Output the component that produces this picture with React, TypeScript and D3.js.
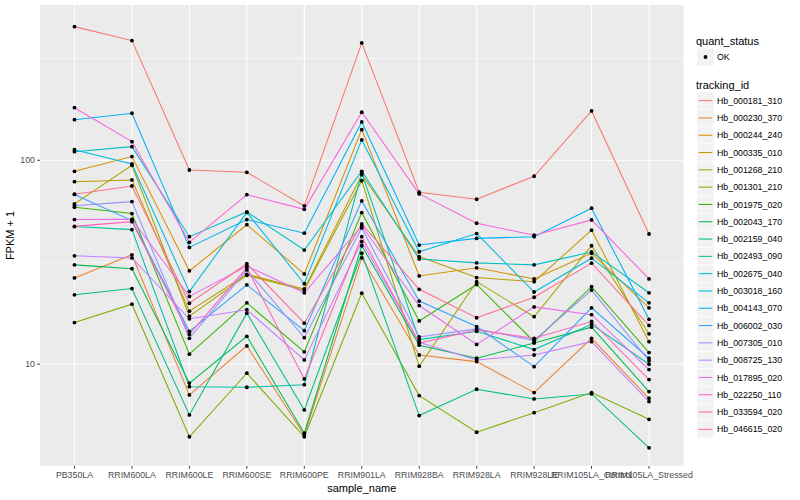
import React from "react";
import * as d3 from "d3";

const samples = [
  "PB350LA", "RRIM600LA", "RRIM600LE", "RRIM600SE", "RRIM600PE", "RRIM901LA",
  "RRIM928BA", "RRIM928LA", "RRIM928LE", "RRIM105LA_Control", "RRIM105LA_Stressed",
];

const trackingIds = [
  "Hb_000181_310", "Hb_000230_370", "Hb_000244_240", "Hb_000335_010", "Hb_001268_210",
  "Hb_001301_210", "Hb_001975_020", "Hb_002043_170", "Hb_002159_040", "Hb_002493_090",
  "Hb_002675_040", "Hb_003018_160", "Hb_004143_070", "Hb_006002_030", "Hb_007305_010",
  "Hb_008725_130", "Hb_017895_020", "Hb_022250_110", "Hb_033594_020", "Hb_046615_020",
];

const palette = [
  "#F8766D", "#EA8331", "#D89000", "#C09B00", "#A3A500", "#7CAE00", "#39B600",
  "#00BB4E", "#00BF7D", "#00C1A3", "#00BFC4", "#00BAE0", "#00B0F6", "#35A2FF",
  "#9590FF", "#C77CFF", "#E76BF3", "#FA62DB", "#FF62BC", "#FF6C91",
];

// FPKM + 1 per sample (order of `samples`)
const hb000181_310 = [452, 386, 89.6, 87.3, 59.7, 376, 69.7, 64.4, 83.5, 174.5, 43.5];
const hb000230_370 = [26.5, 34.4, 7.07, 12.3, 4.5, 33.2, 11.1, 10.3, 7.26, 13.4, 6.81];
const hb000244_240 = [88.3, 104.2, 28.7, 48.3, 27.7, 141.3, 27.1, 29.7, 26.2, 35.0, 18.9];
const hb000335_010 = [78.5, 80.1, 18.2, 27.6, 23.4, 85.0, 33.7, 26.6, 25.4, 45.4, 12.9];
const hb001268_210 = [61.1, 94.5, 17.2, 27.3, 23.1, 79.4, 9.78, 25.4, 17.1, 38.1, 14.1];
const hb001301_210 = [16.0, 19.7, 4.41, 9.04, 4.41, 22.3, 7.02, 4.64, 5.79, 7.26, 5.37];
const hb001975_020 = [58.8, 54.8, 11.2, 20.0, 11.5, 55.4, 16.3, 24.6, 12.9, 24.0, 11.4];
const hb002043_170 = [30.7, 29.4, 8.08, 13.7, 4.59, 38.1, 12.4, 10.7, 12.7, 15.2, 7.34];
const hb002159_040 = [21.9, 23.5, 5.64, 17.8, 5.97, 35.0, 5.6, 7.54, 6.76, 7.15, 3.89];
const hb002493_090 = [47.3, 45.7, 7.76, 7.71, 7.94, 86.6, 13.2, 14.5, 11.8, 15.7, 10.0];
const hb002675_040 = [110.2, 116.6, 42.2, 55.8, 36.3, 88.3, 32.8, 31.4, 30.7, 35.5, 22.4];
const hb003018_160 = [112.7, 95.9, 22.7, 55.5, 24.8, 125.8, 35.6, 43.7, 22.6, 33.1, 20.0];
const hb004143_070 = [158.1, 170.0, 37.4, 51.2, 43.9, 154.1, 38.4, 41.4, 42.2, 58.2, 16.6];
const hb006002_030 = [68.0, 50.6, 14.5, 24.5, 14.6, 63.2, 20.4, 15.3, 9.73, 18.9, 10.7];
const hb007305_010 = [59.9, 62.7, 13.4, 29.0, 13.5, 46.6, 13.6, 14.9, 13.1, 23.1, 10.4];
const hb008725_130 = [34.0, 33.2, 16.7, 18.5, 10.5, 39.9, 12.8, 10.5, 11.1, 12.9, 6.56];
const hb017895_020 = [51.2, 51.4, 21.5, 30.3, 22.4, 47.6, 19.4, 12.5, 19.1, 17.5, 9.41];
const hb022250_110 = [181.0, 123.4, 39.6, 67.8, 57.5, 171.9, 68.4, 49.1, 42.9, 51.0, 26.2];
const hb033594_020 = [47.4, 50.0, 14.0, 29.7, 8.47, 42.2, 12.7, 14.7, 13.4, 16.2, 8.41];
const hb046615_020 = [68.2, 74.8, 19.9, 31.1, 15.9, 48.7, 23.3, 16.9, 21.3, 31.3, 15.5];

const seriesValues = [
  hb000181_310, hb000230_370, hb000244_240, hb000335_010, hb001268_210,
  hb001301_210, hb001975_020, hb002043_170, hb002159_040, hb002493_090,
  hb002675_040, hb003018_160, hb004143_070, hb006002_030, hb007305_010,
  hb008725_130, hb017895_020, hb022250_110, hb033594_020, hb046615_020,
];

const yMajorTicks = [10, 100];
const yMinorTicks = [Math.sqrt(10), Math.sqrt(1000), Math.sqrt(100000)];

const W = 800;
const H = 500;
const panel = { left: 40, right: 683.5, top: 5, bottom: 466 };
const FONT = "'Liberation Sans', Arial, Helvetica, sans-serif";

export default function App() {
  const x = d3
    .scalePoint<string>()
    .domain(samples)
    .range([panel.left, panel.right])
    .padding(0.6);
  const y = d3
    .scaleLog()
    .domain([3.17, 577])
    .range([panel.bottom, panel.top]);

  const line = d3
    .line<number>()
    .x((_, i) => x(samples[i]) as number)
    .y((d) => y(d));

  const series = trackingIds.map((id, i) => ({
    id,
    color: palette[i],
    values: seriesValues[i],
  }));

  const legendX = 697;
  const keyH = 17.3;
  const keyStart = 92;

  return (
    <svg
      width={W}
      height={H}
      style={{ position: "absolute", left: 0, top: 0, background: "#fff" }}
      fontFamily={FONT}
    >
      <rect x={0} y={0} width={W} height={H} fill="#fff" />
      {/* panel */}
      <rect
        x={panel.left}
        y={panel.top}
        width={panel.right - panel.left}
        height={panel.bottom - panel.top}
        fill="#EBEBEB"
      />
      {yMinorTicks.map((t) => (
        <line
          key={"ym" + t}
          x1={panel.left}
          x2={panel.right}
          y1={y(t)}
          y2={y(t)}
          stroke="#fff"
          strokeWidth={0.55}
        />
      ))}
      {yMajorTicks.map((t) => (
        <line
          key={"yM" + t}
          x1={panel.left}
          x2={panel.right}
          y1={y(t)}
          y2={y(t)}
          stroke="#fff"
          strokeWidth={1.1}
        />
      ))}
      {samples.map((s) => (
        <line
          key={"xg" + s}
          x1={x(s)}
          x2={x(s)}
          y1={panel.top}
          y2={panel.bottom}
          stroke="#fff"
          strokeWidth={1.1}
        />
      ))}

      {/* lines */}
      {series.map((s) => (
        <path
          key={"l" + s.id}
          d={line(s.values) || ""}
          fill="none"
          stroke={s.color}
          strokeWidth={1.05}
        />
      ))}
      {/* points */}
      {series.map((s) =>
        s.values.map((v, i) => (
          <circle
            key={"p" + s.id + i}
            cx={x(samples[i])}
            cy={y(v)}
            r={1.9}
            fill="#000"
          />
        ))
      )}

      {/* y axis */}
      {yMajorTicks.map((t) => (
        <g key={"yt" + t}>
          <line
            x1={panel.left - 2.7}
            x2={panel.left}
            y1={y(t)}
            y2={y(t)}
            stroke="#333"
            strokeWidth={1}
          />
          <text
            x={panel.left - 5}
            y={y(t)}
            dy="0.35em"
            textAnchor="end"
            fontSize={8.8}
            fill="#4D4D4D"
          >
            {t}
          </text>
        </g>
      ))}
      <text
        transform={`translate(13.5, ${(panel.top + panel.bottom) / 2}) rotate(-90)`}
        textAnchor="middle"
        fontSize={11}
        fill="#000"
      >
        FPKM + 1
      </text>

      {/* x axis */}
      {samples.map((s) => (
        <g key={"xt" + s}>
          <line
            x1={x(s)}
            x2={x(s)}
            y1={panel.bottom}
            y2={panel.bottom + 2.7}
            stroke="#333"
            strokeWidth={1}
          />
          <text
            x={x(s)}
            y={panel.bottom + 11.5}
            textAnchor="middle"
            fontSize={8.8}
            fill="#4D4D4D"
          >
            {s}
          </text>
        </g>
      ))}
      <text
        x={(panel.left + panel.right) / 2}
        y={492}
        textAnchor="middle"
        fontSize={11}
        fill="#000"
      >
        sample_name
      </text>

      {/* legend: quant_status */}
      <text x={legendX - 1} y={44.5} fontSize={11} fill="#000">
        quant_status
      </text>
      <rect x={legendX} y={48.5} width={17} height={17} fill="#F2F2F2" />
      <circle cx={legendX + 8.5} cy={57} r={1.9} fill="#000" />
      <text x={legendX + 20} y={57} dy="0.35em" fontSize={8.8} fill="#000">
        OK
      </text>

      {/* legend: tracking_id */}
      <text x={legendX - 1} y={89} fontSize={11} fill="#000">
        tracking_id
      </text>
      {series.map((s, i) => {
        const cy = keyStart + i * keyH + keyH / 2;
        return (
          <g key={"lg" + s.id}>
            <rect
              x={legendX}
              y={cy - keyH / 2}
              width={17}
              height={keyH}
              fill="#F2F2F2"
              stroke="#fff"
              strokeWidth={0.6}
            />
            <line
              x1={legendX + 1.7}
              x2={legendX + 15.3}
              y1={cy}
              y2={cy}
              stroke={s.color}
              strokeWidth={1.05}
            />
            <text x={legendX + 20} y={cy} dy="0.35em" fontSize={8.8} fill="#000">
              {s.id}
            </text>
          </g>
        );
      })}
    </svg>
  );
}
